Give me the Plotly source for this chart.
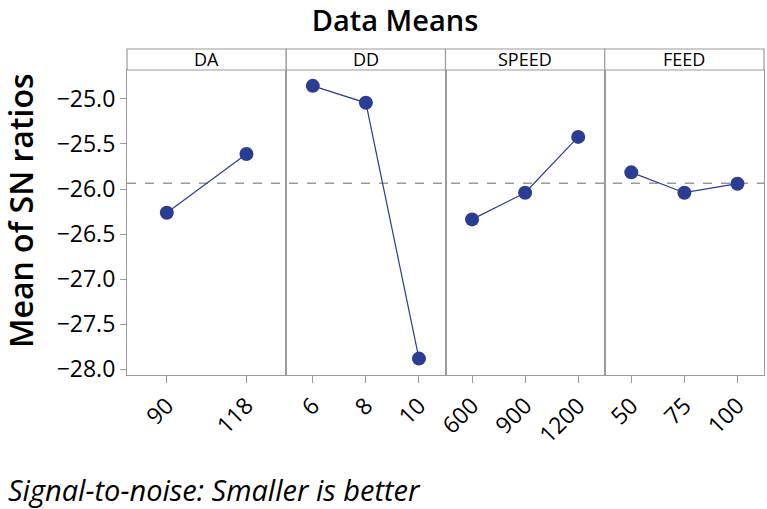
import plotly.graph_objects as go
from plotly.subplots import make_subplots

# ---- data ----
factors = ["DA", "DD", "SPEED", "FEED"]
da_levels = ["90", "118"]
da_means = [-26.263, -25.611]
dd_levels = ["6", "8", "10"]
dd_means = [-24.856, -25.044, -27.881]
speed_levels = ["600", "900", "1200"]
speed_means = [-26.337, -26.041, -25.422]
feed_levels = ["50", "75", "100"]
feed_means = [-25.815, -26.041, -25.941]
grand_mean = -25.937
y_ticks = [-28.0, -27.5, -27.0, -26.5, -26.0, -25.5, -25.0]

levels = [da_levels, dd_levels, speed_levels, feed_levels]
means = [da_means, dd_means, speed_means, feed_means]

W, H = 767, 509
ML, MR, MT, MB = 127, 3, 70, 134
PW = W - ML - MR
PH = H - MT - MB

FONT = "Open Sans"
BLUE = "#2b3c93"
GRAY = "#9a9a9a"

fig = make_subplots(rows=1, cols=4, shared_yaxes=True, horizontal_spacing=0)

for i, (lv, mv) in enumerate(zip(levels, means)):
    fig.add_trace(
        go.Scatter(
            x=lv, y=mv, mode="lines+markers",
            line=dict(color=BLUE, width=1.2),
            marker=dict(color=BLUE, size=14),
            showlegend=False, hoverinfo="x+y",
        ),
        row=1, col=i + 1,
    )
    fig.update_xaxes(
        type="category", range=[-0.5, len(lv) - 0.5], automargin=False,
        showline=True, mirror=True, linecolor=GRAY, linewidth=1.2,
        ticks="outside", ticklen=7, tickcolor=GRAY, tickwidth=1,
        tickangle=-45, tickfont=dict(family=FONT, size=23, color="black"),
        showgrid=False, zeroline=False,
        row=1, col=i + 1,
    )
    xd = "x domain" if i == 0 else f"x{i+1} domain"
    # strip box
    fig.add_shape(type="rect", xref=xd, yref="paper",
                  x0=0, x1=1, y0=1, y1=1 + 21 / PH,
                  line=dict(color=GRAY, width=1.2), fillcolor="white", layer="above")
    fig.add_annotation(text=factors[i], xref=xd, yref="paper",
                       x=0.5, y=1 + 10.5 / PH, showarrow=False,
                       xanchor="center", yanchor="middle",
                       font=dict(family=FONT, size=18, color="black"))

fig.update_yaxes(
    range=[-28.063, -24.68], tickvals=y_ticks, tickformat=".1f", automargin=False,
    showline=True, mirror=True, linecolor=GRAY, linewidth=1.2,
    ticks="outside", ticklen=6, tickcolor=GRAY,
    tickfont=dict(family=FONT, size=23, color="black"),
    showgrid=False, zeroline=False,
)
for i in range(2, 5):
    fig.update_yaxes(ticks="", row=1, col=i)

# grand mean reference line
fig.add_shape(type="line", xref="paper", yref="y", x0=0, x1=1,
              y0=grand_mean, y1=grand_mean,
              line=dict(color=GRAY, width=1.5, dash="dash"), layer="below")

# y-axis title
fig.add_annotation(text="Mean of SN ratios", xref="paper", yref="paper",
                   x=(20 - ML) / PW, y=(H - MB - 211) / PH, textangle=-90,
                   showarrow=False, xanchor="center", yanchor="middle",
                   font=dict(family=FONT, size=32, color="black", weight=600))

# footer
fig.add_annotation(text="<i>Signal-to-noise: Smaller is better</i>",
                   xref="paper", yref="paper",
                   x=(6 - ML) / PW, y=(H - MB - 489) / PH,
                   showarrow=False, xanchor="left", yanchor="middle",
                   font=dict(family=FONT, size=29, color="black"))

fig.update_layout(
    width=W, height=H,
    margin=dict(l=ML, r=MR, t=MT, b=MB, autoexpand=False),
    paper_bgcolor="white", plot_bgcolor="white",
    title=dict(text="Data Means", x=395 / W, xanchor="center",
               y=1 - 21 / H, yanchor="middle", yref="container",
               font=dict(family=FONT, size=29, color="black", weight=600)),
)

fig.write_html("out.html", config={"displayModeBar": False},
               post_script="document.body.style.margin='0';")
